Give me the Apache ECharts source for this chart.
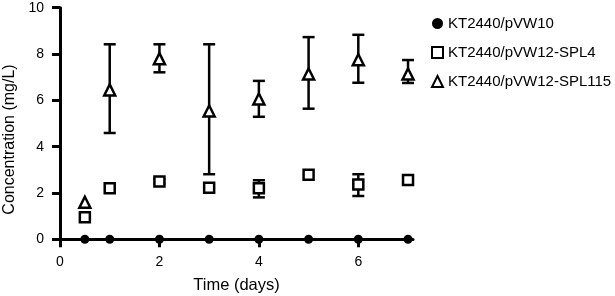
<!DOCTYPE html>
<html>
<head>
<meta charset="utf-8">
<script src="https://cdn.jsdelivr.net/npm/echarts@6/dist/echarts.min.js"></script>
<style>
  html, body { margin: 0; padding: 0; background: #fff; }
  #chart { width: 615px; height: 296px; }
</style>
</head>
<body>
<div id="chart"></div>
<script>
// sampling days
var days = [0.5, 1, 2, 3, 4, 5, 6, 7];
var seriesNames = ["KT2440/pVW10", "KT2440/pVW12-SPL4", "KT2440/pVW12-SPL115"];

// concentration (mg/L)
var pVW10 = [0, 0, 0, 0, 0, 0, 0, 0];
var spl4 = [0.95, 2.2, 2.5, 2.23, 2.2, 2.79, 2.37, 2.56];
var spl115 = [1.6, 6.45, 7.8, 5.54, 6.06, 7.14, 7.75, 7.14];

// error bar ends (null = no bar)
var spl4Low = [null, null, 2.4, null, 1.81, null, 1.87, null];
var spl4High = [null, null, 2.6, null, 2.55, null, 2.81, null];
var spl115Low = [null, 4.59, 7.21, 2.81, 5.29, 5.64, 6.76, 6.75];
var spl115High = [null, 8.42, 8.42, 8.42, 6.84, 8.73, 8.83, 7.74];

var xTicks = [0, 2, 4, 6];

function pairs(xs, ys) {
  return xs.map(function (x, i) { return [x, ys[i]]; });
}

function errData(lo, hi) {
  var out = [];
  days.forEach(function (d, i) {
    if (lo[i] != null) out.push([d, lo[i], hi[i]]);
  });
  return out;
}

// draws a vertical bar with caps
function renderErr(params, api) {
  var top = api.coord([api.value(0), api.value(2)]);
  var bot = api.coord([api.value(0), api.value(1)]);
  var w = 6;
  var st = { stroke: "#000", lineWidth: 2.5 };
  return {
    type: "group",
    children: [
      { type: "line", shape: { x1: top[0], y1: top[1], x2: bot[0], y2: bot[1] }, style: st },
      { type: "line", shape: { x1: top[0] - w, y1: top[1], x2: top[0] + w, y2: top[1] }, style: st },
      { type: "line", shape: { x1: bot[0] - w, y1: bot[1], x2: bot[0] + w, y2: bot[1] }, style: st }
    ]
  };
}

var font = "'Liberation Sans', Arial, sans-serif";
var chart = echarts.init(document.getElementById("chart"), null, { renderer: "canvas" });

var option = {
  animation: false,
  backgroundColor: "#fff",
  textStyle: { fontFamily: font, color: "#000" },
  grid: { left: 60, right: 202, top: 7.7, bottom: 56.7, containLabel: false, outerBoundsMode: "none" },
  legend: {
    orient: "vertical",
    left: 426,
    top: 11,
    itemWidth: 11,
    itemHeight: 11,
    itemGap: 14,
    textStyle: { fontFamily: font, fontSize: 15, color: "#000" },
    data: seriesNames
  },
  xAxis: {
    type: "value",
    min: 0,
    max: 7.1,
    interval: 2,
    name: "Time (days)",
    nameLocation: "middle",
    nameGap: 38,
    nameTextStyle: { fontFamily: font, fontSize: 16.5, color: "#000" },
    axisLine: { onZero: false, lineStyle: { color: "#000", width: 3 } },
    axisTick: { length: 8, lineStyle: { color: "#000", width: 3 }, customValues: xTicks },
    axisLabel: { fontFamily: font, fontSize: 14, color: "#000", margin: 16, customValues: xTicks },
    splitLine: { show: false }
  },
  yAxis: {
    type: "value",
    min: 0,
    max: 10,
    interval: 2,
    name: "Concentration (mg/L)",
    nameLocation: "middle",
    nameGap: 42,
    nameTextStyle: { fontFamily: font, fontSize: 16, color: "#000", padding: [0, 32, 0, 0] },
    axisLine: { show: true, onZero: false, lineStyle: { color: "#000", width: 3 } },
    axisTick: { show: true, length: 8, lineStyle: { color: "#000", width: 3 } },
    axisLabel: { fontFamily: font, fontSize: 14, color: "#000", margin: 16 },
    splitLine: { show: false }
  },
  series: [
    {
      type: "custom",
      renderItem: renderErr,
      data: errData(spl115Low, spl115High),
      encode: { x: 0, y: [1, 2] },
      z: 2,
      silent: true
    },
    {
      type: "custom",
      renderItem: renderErr,
      data: errData(spl4Low, spl4High),
      encode: { x: 0, y: [1, 2] },
      z: 2,
      silent: true
    },
    {
      name: seriesNames[0],
      type: "scatter",
      symbol: "circle",
      symbolSize: 9,
      clip: false,
      z: 5,
      itemStyle: { color: "#000", opacity: 1 },
      data: pairs(days, pVW10)
    },
    {
      name: seriesNames[1],
      type: "scatter",
      symbol: "rect",
      symbolSize: 10,
      clip: false,
      z: 5,
      itemStyle: { color: "#fff", borderColor: "#000", borderWidth: 2.5, opacity: 1 },
      data: pairs(days, spl4)
    },
    {
      name: seriesNames[2],
      type: "scatter",
      symbol: "triangle",
      symbolSize: 11,
      clip: false,
      z: 5,
      itemStyle: { color: "#fff", borderColor: "#000", borderWidth: 2.5, opacity: 1 },
      data: pairs(days, spl115)
    }
  ]
};

chart.setOption(option);
</script>
</body>
</html>
